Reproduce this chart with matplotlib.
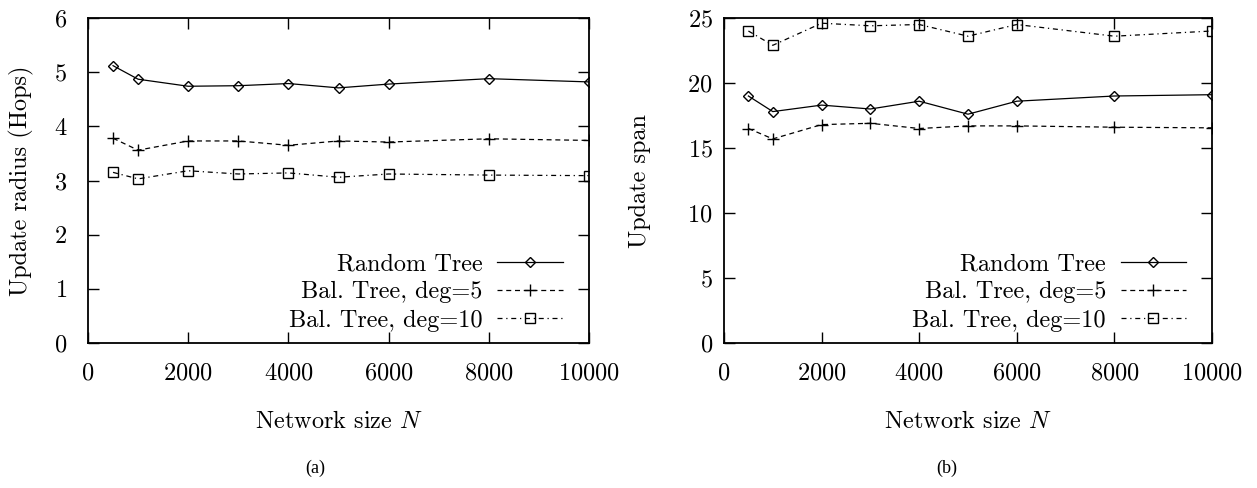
import matplotlib
matplotlib.use('Agg')
import matplotlib.pyplot as plt

plt.rcParams['font.family'] = 'serif'
plt.rcParams['font.serif'] = ['cmr10', 'DejaVu Serif']
plt.rcParams['mathtext.fontset'] = 'cm'
plt.rcParams['axes.formatter.use_mathtext'] = True

####################
# Data
sizes = [500, 1000, 2000, 3000, 4000, 5000, 6000, 8000, 10000]
labels = ['Random Tree', 'Bal. Tree, deg=5', 'Bal. Tree, deg=10']

radius_random = [5.12, 4.87, 4.74, 4.75, 4.79, 4.71, 4.78, 4.88, 4.82]
radius_deg5 = [3.78, 3.56, 3.73, 3.73, 3.65, 3.73, 3.71, 3.77, 3.74]
radius_deg10 = [3.15, 3.03, 3.18, 3.12, 3.14, 3.06, 3.12, 3.10, 3.09]

span_random = [19.0, 17.8, 18.3, 18.0, 18.6, 17.6, 18.6, 19.0, 19.1]
span_deg5 = [16.5, 15.7, 16.8, 16.9, 16.5, 16.7, 16.7, 16.6, 16.55]
span_deg10 = [24.0, 22.9, 24.6, 24.4, 24.5, 23.6, 24.5, 23.6, 24.0]

xticks = [0, 2000, 4000, 6000, 8000, 10000]

####################
# Styles
styles = [
    dict(marker='D', markersize=5.0, linestyle='-'),
    dict(marker='+', markersize=8, linestyle=(0, (4, 3))),
    dict(marker='s', markersize=7, linestyle=(0, (4, 3, 1, 3))),
]
FS = 17.5

fig = plt.figure(figsize=(12.57, 4.88), dpi=100)
ax1 = fig.add_axes([88 / 1257, 1 - 343 / 488, 501 / 1257, 325 / 488])
ax2 = fig.add_axes([724 / 1257, 1 - 343 / 488, 488 / 1257, 325 / 488])


def draw(ax, series, ylim, yticks, ylabel, ypad, ylabpad):
    for ys, lab, st in zip(series, labels, styles):
        ax.plot(sizes, ys, color='black', linewidth=0.9, fillstyle='none',
                markeredgewidth=1.0, label=lab, **st)
    ax.set_xlim(0, 10000)
    ax.set_ylim(*ylim)
    ax.set_xticks(xticks)
    ax.set_yticks(yticks)
    ax.tick_params(direction='in', length=8, width=1.0, labelsize=FS,
                   top=True, right=True)
    ax.tick_params(axis='x', pad=14)
    ax.tick_params(axis='y', pad=ypad)
    for sp in ax.spines.values():
        sp.set_linewidth(1.3)
    ax.set_xlabel('Network size $N$', fontsize=FS, labelpad=19)
    ax.set_ylabel(ylabel, fontsize=FS, labelpad=ylabpad)
    ax.legend(loc='lower right', frameon=False, markerfirst=False,
              numpoints=1, fontsize=FS, handlelength=2.7, labelspacing=0.25,
              handletextpad=0.6, borderaxespad=0.0,
              bbox_to_anchor=(0.967, 0.005))


draw(ax1, [radius_random, radius_deg5, radius_deg10], (0, 6), range(0, 7),
     'Update radius (Hops)', 15, 14)
draw(ax2, [span_random, span_deg5, span_deg10], (0, 25), range(0, 26, 5),
     'Update span', 8, 26)

fig.text(315 / 1257, 1 - 468 / 488, '(a)', ha='center', va='center',
         fontsize=13, family=['Liberation Serif', 'DejaVu Serif'])
fig.text(947 / 1257, 1 - 468 / 488, '(b)', ha='center', va='center',
         fontsize=13, family=['Liberation Serif', 'DejaVu Serif'])

fig.savefig('out.png', dpi=100)
